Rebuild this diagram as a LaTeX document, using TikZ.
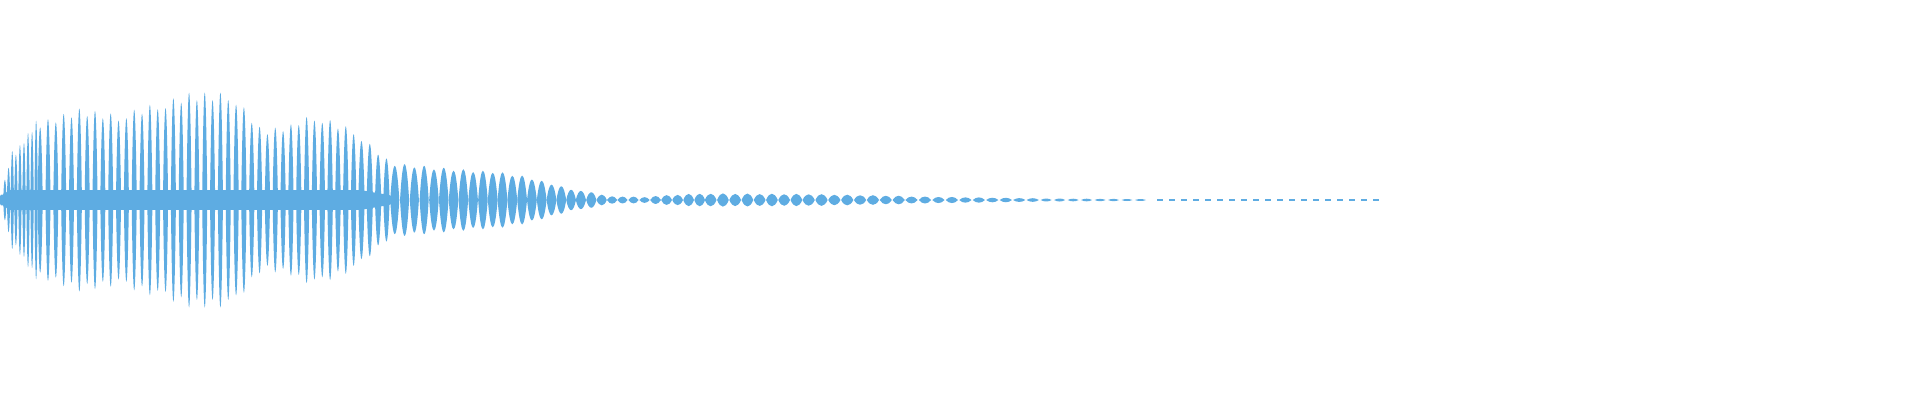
\documentclass[tikz,border=0pt]{standalone}
\definecolor{wave}{RGB}{94,172,226}
\tikzset{lobe/.style={fill=wave,draw=none}}
\begin{document}
\begin{tikzpicture}[x=1.2245pt,y=1.2245pt]
\useasboundingbox (0,-163.35) rectangle (1568,163.35);
% core band of the dense part
\fill[wave] (0,-3) -- (8,-8) -- (295,-8) -- (318,-4) -- (326,0) -- (318,4) -- (295,8) -- (8,8) -- (0,3) -- cycle;
\xdef\gx{1}
% lobes: count/a0/a1/spacing/halfwidth
\foreach \n/\aa/\ab/\s/\w in {
  4/5/40/3/1.4,
  6/40/65/3.3/1.4,
  6/64/75/6.4/2.1,
  5/74/70/6.4/2.1,
  5/72/80/6.4/2.1,
  4/81/88/6.4/2.1,
  5/88/88/6.4/2.1,
  4/84/60/6.4/2.2,
  4/58/62/6.4/2.2,
  3/66/70/6.4/2.2,
  5/68/58/6.4/2.3,
  4/52/34/6.8/2.6,
  4/30/28/8/3.7,
  6/27/24/8/3.9,
  4/24/20/8/4,
  5/18/9/8/4,
  4/8/3/8.5/4.2,
  3/3/2.5/9/4.2,
  5/3.5/5.5/9/4.4,
  8/5.5/5/10/4.8,
  8/5/3.5/10.5/5,
  10/3/1.5/11/5,
  8/1.3/0.8/11/4.5}
{
  \foreach \i in {1,...,\n}{
    \pgfmathsetmacro\x{\gx+(\i-1)*\s}
    \pgfmathsetmacro\a{1.33*(\aa+(\ab-\aa)*(\i-1)/max(1,\n-1))*(1-0.07*mod(\i,2))}
    \fill[lobe] (\x-\w,0) .. controls (\x-0.4*\w,\a) and (\x+0.4*\w,\a) .. (\x+\w,0)
      .. controls (\x+0.4*\w,-\a) and (\x-0.4*\w,-\a) .. cycle;
  }
  \pgfmathsetmacro\nx{\gx+\n*\s}
  \xdef\gx{\nx}
}
% tail
\draw[wave,line width=1.3pt,dash pattern=on 6pt off 6pt] (945,0) -- (1130,0);
\end{tikzpicture}
\end{document}
